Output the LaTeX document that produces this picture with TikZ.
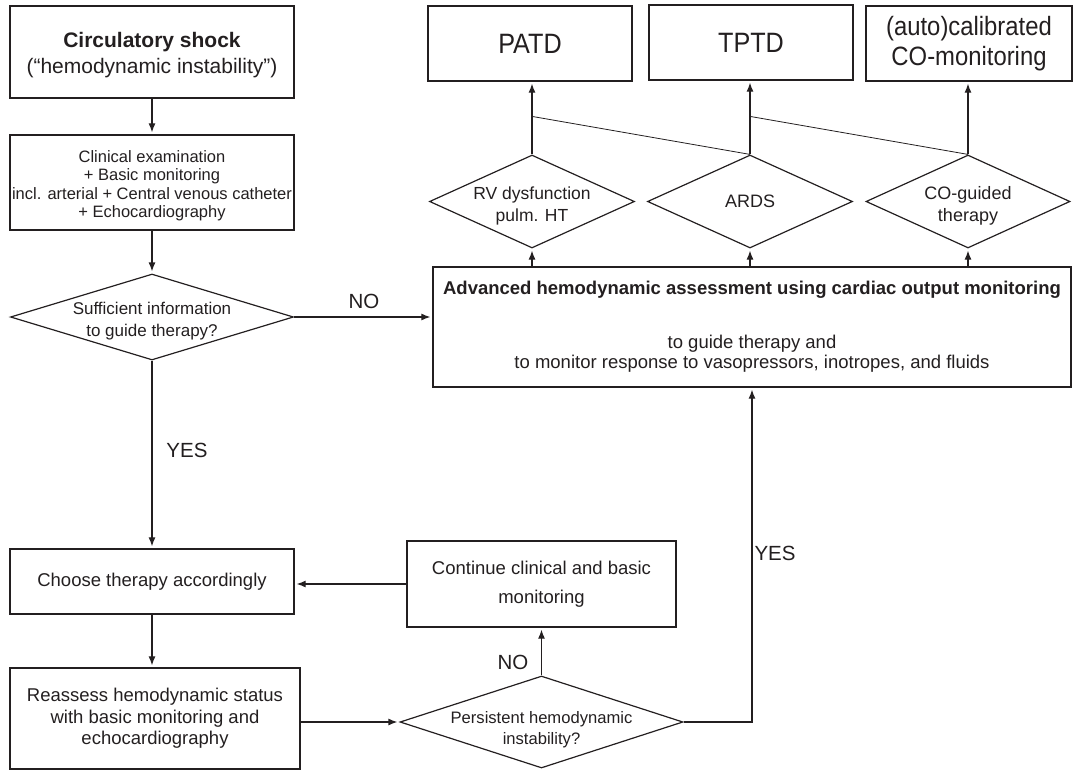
\documentclass[tikz,border=0pt]{standalone}
\usepackage{fontspec}
\setmainfont{Liberation Sans}
\newfontfamily\narrowsf[FakeStretch=0.9]{Liberation Sans}
\usepackage{xcolor}
\usetikzlibrary{shapes.geometric,arrows.meta}

\definecolor{ink}{HTML}{231F20}
\newcommand{\fsz}[2]{\fontsize{#1}{#2}\selectfont}
\newcommand{\topgap}[1]{\rule{0pt}{#1}}

\tikzset{
  box/.style={draw=ink, line width=1.3pt, rectangle, inner sep=0pt, align=center, text=ink},
  decision/.style={draw=ink, line width=1.2pt, diamond, inner sep=-8pt, aspect=3.3, align=center, text=ink},
  flow/.style={draw=ink, line width=1.2pt, shorten >=2pt, -{Latex[length=9pt,width=7pt]}},
  link/.style={draw=ink, line width=0.8pt},
  answer/.style={text=ink, font=\fsz{20.5}{24}},
}

\begin{document}
\begin{tikzpicture}[x=1pt,y=-1pt]

    \useasboundingbox (0,0) rectangle (1073,771);

    % left column
    \node[box, minimum width=284pt, minimum height=92pt, font=\fsz{21}{26}] (shock) at (152,52)
        {\topgap{21pt}\textbf{Circulatory shock}\\(“hemodynamic instability”)};
    \node[box, minimum width=284pt, minimum height=95pt, font=\fsz{16.5}{18.5}] (exam) at (152,182.5)
        {\topgap{18pt}Clinical examination\\+ Basic monitoring\\incl. arterial + Central venous catheter\\+ Echocardiography};
    \node[decision, minimum width=283pt, minimum height=86pt, font=\fsz{17}{22}] (suff) at (152,317)
        {\topgap{21pt}Sufficient information\\to guide therapy?};
    \node[box, minimum width=284pt, minimum height=65pt, font=\fsz{18.5}{22}] (choose) at (152,581.5)
        {Choose therapy accordingly};
    \node[box, minimum width=290pt, minimum height=101pt, font=\fsz{18.5}{21.5}] (reassess) at (155,718.5)
        {Reassess hemodynamic status\\with basic monitoring and\\echocardiography};

    % middle
    \node[decision, inner sep=-10pt, minimum width=283pt, minimum height=92pt, font=\fsz{16.6}{21}] (persist) at (541.5,722)
        {\topgap{27pt}Persistent hemodynamic\\instability?};
    \node[box, minimum width=269pt, minimum height=86pt, font=\fsz{18.5}{29}] (cont) at (541.5,584)
        {Continue clinical and basic\\monitoring};

    % advanced assessment
    \node[box, minimum width=638pt, minimum height=120pt, font=\fsz{18.5}{20}] (adv) at (752,327)
        {\textbf{Advanced hemodynamic assessment using cardiac output monitoring}\\[34pt]
         to guide therapy and\\to monitor response to vasopressors, inotropes, and fluids};

    % indications
    \node[decision, aspect=2.2, minimum width=205pt, minimum height=93pt, font=\fsz{17.5}{22}] (rv) at (532,201.5)
        {\topgap{22pt}RV dysfunction\\pulm. HT};
    \node[decision, aspect=2.2, minimum width=205pt, minimum height=93pt, font=\fsz{18}{22}] (ards) at (750,201.5)
        {ARDS};
    \node[decision, aspect=2.2, minimum width=204pt, minimum height=93pt, font=\fsz{18}{22}] (co) at (968,201.5)
        {\topgap{22pt}CO-guided\\therapy};

    % techniques
    \node[box, minimum width=204pt, minimum height=75pt, font=\narrowsf\fsz{28}{30}] (patd) at (530,43.5) {PATD};
    \node[box, minimum width=204pt, minimum height=75pt, font=\narrowsf\fsz{28}{30}] (tptd) at (751,42.5) {TPTD};
    \node[box, minimum width=206pt, minimum height=75pt, font=\narrowsf\fsz{26.5}{30}] (auto) at (969,43.5)
        {(auto)calibrated\\CO-monitoring};

    % labels
    \node[answer] (no1) at (364,301) {NO};
    \node[answer] (yes1) at (187,450) {YES};
    \node[answer] (no2) at (513,662) {NO};
    \node[answer] (yes2) at (775,553) {YES};

    % arrows, left column
    \draw[flow] (shock) -- (exam);
    \draw[flow] (exam) -- (suff);
    \draw[flow] (suff) -- (choose);
    \draw[flow] (suff.east) -- (suff.east -| adv.west);
    \draw[flow] (choose.south) -- (choose.south |- reassess.north);
    \draw[flow] (reassess.east |- persist.west) -- (persist.west);
    \draw[flow] (persist.north) -- (persist.north |- cont.south);
    \draw[flow] (cont.west) -- (cont.west -| choose.east);
    \draw[flow] (persist.east) -| (adv.south);

    % arrows, top
    \foreach \d in {rv,ards,co}
        \draw[flow] (adv.north -| \d.south) -- (\d.south);
    \draw[flow] (rv.north) -- (rv.north |- patd.south);
    \draw[flow] (ards.north) -- (ards.north |- tptd.south);
    \draw[flow] (co.north) -- (co.north |- auto.south);

    % forks
    \path (rv.north) ++(0,-38) coordinate (rvfork);
    \path (ards.north) ++(0,-38) coordinate (ardsfork);
    \draw[link] (rvfork) -- (ards.north);
    \draw[link] (ardsfork) -- (co.north);

\end{tikzpicture}
\end{document}
